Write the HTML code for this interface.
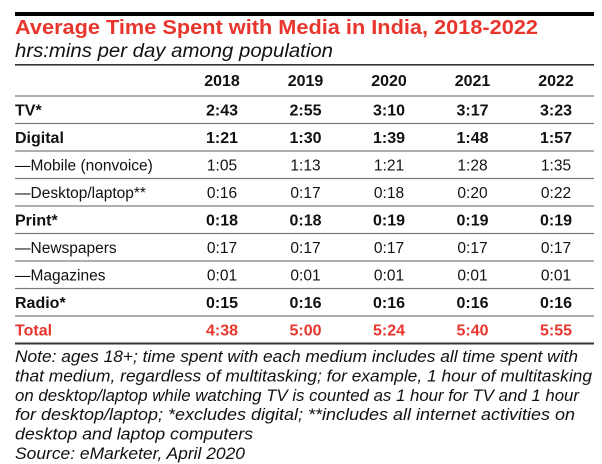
<!DOCTYPE html>
<html><head><meta charset="utf-8"><style>
html,body{margin:0;padding:0;background:#fff;}
svg{display:block;}
text{font-family:"Liberation Sans",sans-serif;}
</style></head><body>
<svg id="chart" width="602" height="464" viewBox="0 0 602 464" xmlns="http://www.w3.org/2000/svg">
<rect x="15" y="12" width="579" height="4" fill="#000"/>
<text x="15" y="34" font-size="20.5" font-weight="bold" fill="#e8362d" textLength="523" lengthAdjust="spacingAndGlyphs">Average Time Spent with Media in India, 2018-2022</text>
<text x="15" y="57" font-size="19.5" font-style="italic" fill="#111" textLength="318" lengthAdjust="spacingAndGlyphs">hrs:mins per day among population</text>
<rect x="15" y="64" width="579" height="1.6" fill="#333"/>
<g id="table"></g>
<g id="notes" font-size="17" font-style="italic" fill="#111"></g>
</svg>
<script>
const years = ["2018","2019","2020","2021","2022"];
const rowLabels = ["TV*","Digital","—Mobile (nonvoice)","—Desktop/laptop**","Print*","—Newspapers","—Magazines","Radio*","Total"];
const rowBold = [true,true,false,false,true,false,false,true,true];
const tvValues = ["2:43","2:55","3:10","3:17","3:23"];
const digitalValues = ["1:21","1:30","1:39","1:48","1:57"];
const mobileValues = ["1:05","1:13","1:21","1:28","1:35"];
const desktopValues = ["0:16","0:17","0:18","0:20","0:22"];
const printValues = ["0:18","0:18","0:19","0:19","0:19"];
const newspaperValues = ["0:17","0:17","0:17","0:17","0:17"];
const magazineValues = ["0:01","0:01","0:01","0:01","0:01"];
const radioValues = ["0:15","0:16","0:16","0:16","0:16"];
const totalValues = ["4:38","5:00","5:24","5:40","5:55"];
const noteLines = [
 "Note: ages 18+; time spent with each medium includes all time spent with",
 "that medium, regardless of multitasking; for example, 1 hour of multitasking",
 "on desktop/laptop while watching TV is counted as 1 hour for TV and 1 hour",
 "for desktop/laptop; *excludes digital; **includes all internet activities on",
 "desktop and laptop computers",
 "Source: eMarketer, April 2020"
];
const noteWidths = [563,577,564,560,238,230];

const allRows = [tvValues,digitalValues,mobileValues,desktopValues,printValues,newspaperValues,magazineValues,radioValues,totalValues];
const NS = "http://www.w3.org/2000/svg";
const g = document.getElementById("table");
const colX = i => 222 + i * 83.5;
const rowY = i => 96 + 27.5 * i + 14;
function mk(tag, attrs){const e=document.createElementNS(NS,tag);for(const k in attrs)e.setAttribute(k,attrs[k]);return e;}

years.forEach((y,i)=>{
  const t = mk("text",{x:colX(i),y:86,"font-size":16,"font-weight":"bold","text-anchor":"middle",fill:"#111"});
  t.textContent = y;
  
  
  g.appendChild(t);
});
for(let k=0;k<=rowLabels.length;k++){
  const last = k===rowLabels.length;
  const r = mk("rect",{x:15,y:96+27.5*k-(last?1:0.6),width:579,height:last?2:1.2,fill:last?"#333":"#777"});
  
  
  g.appendChild(r);
}
rowLabels.forEach((lab,r)=>{
  const isTotal = r===rowLabels.length-1;
  const color = isTotal ? "#e8362d" : "#111";
  const fs = rowBold[r] ? 16 : 15.5;
  const fw = rowBold[r] ? "bold" : "normal";
  const t = mk("text",{x:15,y:rowY(r)+5.5,"font-size":fs,"font-weight":fw,fill:color});
  t.textContent = lab;
  
  
  g.appendChild(t);
  allRows[r].forEach((v,c)=>{
    const tv = mk("text",{x:colX(c),y:rowY(r)+5.5,"font-size":fs,"font-weight":fw,"text-anchor":"middle",fill:color});
    tv.textContent = v;
    
    
    g.appendChild(tv);
  });
});
const ng = document.getElementById("notes");
noteLines.forEach((line,i)=>{
  const t = mk("text",{x:15,y:362+19.4*i,textLength:noteWidths[i],lengthAdjust:"spacingAndGlyphs"});
  t.textContent = line;
  
  
  ng.appendChild(t);
});
</script>
</body></html>
